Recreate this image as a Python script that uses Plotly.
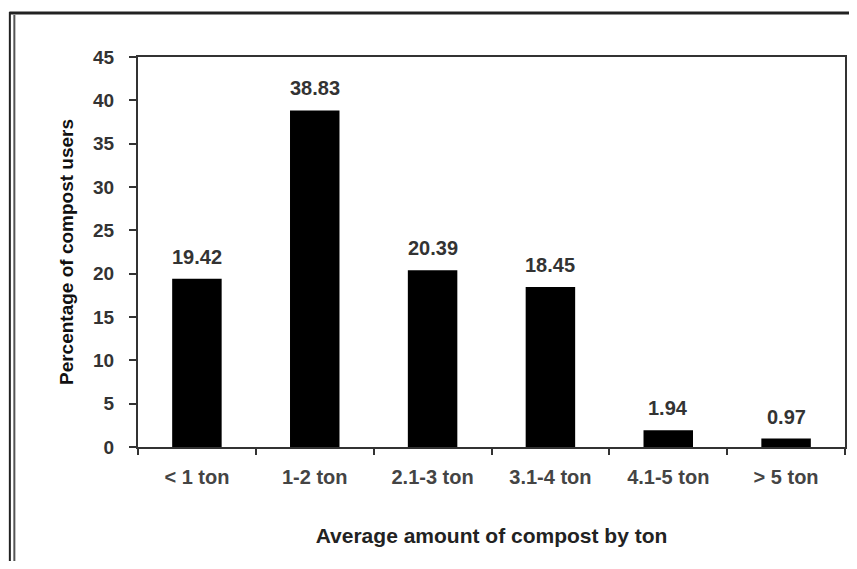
import plotly.graph_objects as go

categories = ["< 1 ton", "1-2 ton", "2.1-3 ton", "3.1-4 ton", "4.1-5 ton", "> 5 ton"]
values = [19.42, 38.83, 20.39, 18.45, 1.94, 0.97]
value_labels = ["19.42", "38.83", "20.39", "18.45", "1.94", "0.97"]
y_ticks = [0, 5, 10, 15, 20, 25, 30, 35, 40, 45]

# page body has an 8px margin, so the figure is sized to fit inside it
OFF = 8
W, H = 841, 553
L, T = 138 - OFF, 57 - OFF
R = W - (847 - OFF)
B = H - (447 - OFF)
pw, ph = W - L - R, H - T - B

def px_x(x):
    return (x - OFF - L) / pw

def px_y(y):
    return (H - B - (y - OFF)) / ph

FONT = "Liberation Sans, Arial"

fig = go.Figure()
fig.add_trace(go.Bar(
    x=categories, y=values,
    marker=dict(color="black", line=dict(color="black", width=0)),
    width=0.42,
    hoverinfo="skip",
))

for c, v, lab in zip(categories, values, value_labels):
    fig.add_annotation(
        x=c, y=v, text=lab, showarrow=False, yanchor="bottom",
        yshift=9, font=dict(family=FONT, size=20, color="#333333", weight="bold"),
    )

frame = "#222222"
fig.add_shape(type="line", xref="paper", yref="paper",
              x0=px_x(9), x1=px_x(857), y0=px_y(13), y1=px_y(13),
              line=dict(color=frame, width=3))
fig.add_shape(type="line", xref="paper", yref="paper",
              x0=px_x(9.5), x1=px_x(9.5), y0=px_y(12), y1=px_y(569),
              line=dict(color=frame, width=2))
fig.add_shape(type="line", xref="paper", yref="paper",
              x0=px_x(14), x1=px_x(14), y0=px_y(15), y1=px_y(569),
              line=dict(color="#555555", width=2))

fig.update_layout(
    width=W, height=H,
    margin=dict(l=L, r=R, t=T, b=B),
    paper_bgcolor="white", plot_bgcolor="white",
    showlegend=False,
    font=dict(family=FONT, color="#222222"),
    xaxis=dict(
        type="category",
        showline=True, linecolor="#333333", linewidth=2, mirror=True,
        ticks="outside", ticklen=6, tickcolor="#333333", tickwidth=1.5,
        tickson="boundaries", showgrid=False,
        ticklabelstandoff=11,
        tickfont=dict(size=20, color="#444444", weight="bold"),
        title=dict(text="Average amount of compost by ton", standoff=41,
                   font=dict(size=21, color="#222222", weight="bold")),
    ),
    yaxis=dict(
        range=[0, 45], tickvals=y_ticks, ticktext=[str(t) for t in y_ticks],
        showline=True, linecolor="#333333", linewidth=2, mirror=True,
        ticks="outside", ticklen=7, tickcolor="#333333", tickwidth=1.5,
        showgrid=False, zeroline=False,
        ticklabelstandoff=11,
        tickfont=dict(size=19, color="#333333", weight="bold"),
        title=dict(text="Percentage of compost users", standoff=14,
                   font=dict(size=19, color="#111111", weight="bold")),
    ),
)

fig.write_html("out.html")
